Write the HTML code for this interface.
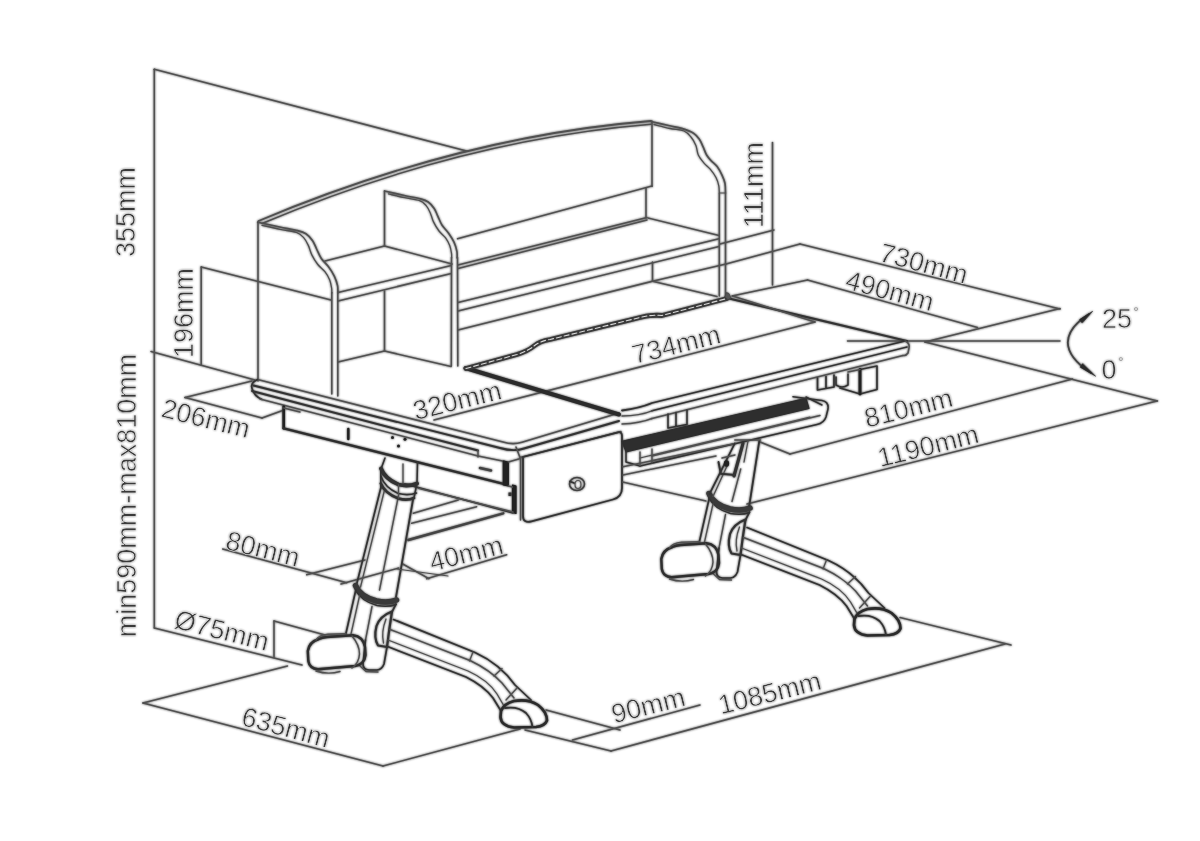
<!DOCTYPE html>
<html><head><meta charset="utf-8"><title>Desk dimensions</title>
<style>
html,body{margin:0;padding:0;background:#fff;}
body{width:1200px;height:841px;overflow:hidden;}
svg{display:block;font-family:"Liberation Sans",sans-serif;will-change:transform;}
svg line,svg path{stroke-linecap:round;stroke-linejoin:round;}
</style></head><body>
<svg width="1200" height="841" viewBox="0 0 1200 841">
<rect width="1200" height="841" fill="#fff"/>
<defs><filter id="soft" x="0" y="0" width="1200" height="841" filterUnits="userSpaceOnUse" color-interpolation-filters="sRGB"><feGaussianBlur stdDeviation="0.8" result="b"/><feMerge><feMergeNode in="b"/><feMergeNode in="SourceGraphic"/></feMerge></filter></defs>
<g filter="url(#soft)">
<!-- dimension lines -->
<line x1="154.3" y1="69.3" x2="154.3" y2="628" stroke="#505050" stroke-width="1.56"/>
<line x1="154.3" y1="69.3" x2="467.5" y2="151.3" stroke="#505050" stroke-width="1.56"/>
<line x1="151" y1="351.5" x2="255" y2="380" stroke="#505050" stroke-width="1.56"/>
<line x1="154.3" y1="628" x2="302" y2="665" stroke="#505050" stroke-width="1.56"/>
<line x1="201.2" y1="267" x2="201.2" y2="365" stroke="#505050" stroke-width="1.56"/>
<line x1="201.2" y1="267" x2="331" y2="300" stroke="#505050" stroke-width="1.56"/>
<line x1="252" y1="381" x2="185" y2="397.5" stroke="#505050" stroke-width="1.56"/>
<line x1="185" y1="397.5" x2="262" y2="418" stroke="#505050" stroke-width="1.56"/>
<line x1="262" y1="418" x2="284" y2="410" stroke="#505050" stroke-width="1.56"/>
<line x1="222.7" y1="549" x2="346.7" y2="582.7" stroke="#505050" stroke-width="1.56"/>
<line x1="306.7" y1="574.7" x2="365" y2="560" stroke="#505050" stroke-width="1.56"/>
<line x1="341" y1="584" x2="398.7" y2="568" stroke="#505050" stroke-width="1.56"/>
<line x1="402.7" y1="564" x2="429" y2="578.7" stroke="#505050" stroke-width="1.56"/>
<line x1="426.7" y1="578.7" x2="506.7" y2="554.7" stroke="#505050" stroke-width="1.56"/>
<line x1="274" y1="621" x2="274" y2="657.5" stroke="#505050" stroke-width="1.56"/>
<line x1="274" y1="621" x2="325" y2="635" stroke="#505050" stroke-width="1.56"/>
<line x1="143" y1="703" x2="287.5" y2="666" stroke="#505050" stroke-width="1.56"/>
<line x1="143" y1="703" x2="383" y2="766" stroke="#505050" stroke-width="1.56"/>
<line x1="383" y1="766" x2="520" y2="729" stroke="#505050" stroke-width="1.56"/>
<line x1="546" y1="710" x2="620" y2="730" stroke="#505050" stroke-width="1.56"/>
<line x1="525" y1="730" x2="611" y2="751" stroke="#505050" stroke-width="1.56"/>
<line x1="572.5" y1="740" x2="700" y2="705" stroke="#505050" stroke-width="1.56"/>
<line x1="611" y1="751" x2="1005" y2="644" stroke="#505050" stroke-width="1.56"/>
<line x1="900" y1="617.5" x2="1011" y2="645" stroke="#505050" stroke-width="1.56"/>
<line x1="747" y1="504" x2="1157" y2="401" stroke="#505050" stroke-width="1.56"/>
<line x1="790" y1="454" x2="1072.5" y2="379" stroke="#505050" stroke-width="1.56"/>
<line x1="760" y1="442" x2="790" y2="454" stroke="#505050" stroke-width="1.56"/>
<line x1="925" y1="342" x2="1157.5" y2="401" stroke="#505050" stroke-width="1.56"/>
<line x1="925" y1="342" x2="1060" y2="308.5" stroke="#505050" stroke-width="1.56"/>
<line x1="847.5" y1="341" x2="1060" y2="341" stroke="#505050" stroke-width="1.56"/>
<line x1="800" y1="244" x2="1060" y2="309" stroke="#505050" stroke-width="1.56"/>
<line x1="726" y1="264" x2="800" y2="244" stroke="#505050" stroke-width="1.56"/>
<line x1="807.5" y1="280" x2="977.5" y2="327.5" stroke="#505050" stroke-width="1.56"/>
<line x1="732" y1="296" x2="807.5" y2="280" stroke="#505050" stroke-width="1.56"/>
<line x1="772.5" y1="142.5" x2="772.5" y2="285" stroke="#505050" stroke-width="1.56"/>
<line x1="720" y1="244" x2="774" y2="230" stroke="#505050" stroke-width="1.56"/>
<line x1="434" y1="420" x2="815" y2="322" stroke="#505050" stroke-width="1.56"/>
<!-- labels -->
<text transform="translate(125.5,212) rotate(-90)" x="0" y="9.67" font-size="27" text-anchor="middle" fill="#3a3a3a" stroke="#fff" stroke-width="0.5">355mm</text>
<text transform="translate(183.5,313) rotate(-90)" x="0" y="9.67" font-size="27" text-anchor="middle" fill="#3a3a3a" stroke="#fff" stroke-width="0.5">196mm</text>
<text transform="translate(126,495.5) rotate(-90)" x="0" y="9.67" font-size="27" text-anchor="middle" fill="#3a3a3a" stroke="#fff" stroke-width="0.5">min590mm-max810mm</text>
<text transform="translate(753,185) rotate(-90)" x="0" y="9.67" font-size="27" text-anchor="middle" fill="#3a3a3a" stroke="#fff" stroke-width="0.5">111mm</text>
<text transform="translate(206,418) rotate(14)" x="0" y="9.67" font-size="27" text-anchor="middle" fill="#3a3a3a" stroke="#fff" stroke-width="0.5">206mm</text>
<text transform="translate(457,400) rotate(-14)" x="0" y="9.67" font-size="27" text-anchor="middle" fill="#3a3a3a" stroke="#fff" stroke-width="0.5">320mm</text>
<text transform="translate(676,344) rotate(-14)" x="0" y="9.67" font-size="27" text-anchor="middle" fill="#3a3a3a" stroke="#fff" stroke-width="0.5">734mm</text>
<text transform="translate(924,263) rotate(15)" x="0" y="9.67" font-size="27" text-anchor="middle" fill="#3a3a3a" stroke="#fff" stroke-width="0.5">730mm</text>
<text transform="translate(890,290.5) rotate(15)" x="0" y="9.67" font-size="27" text-anchor="middle" fill="#3a3a3a" stroke="#fff" stroke-width="0.5">490mm</text>
<text transform="translate(908.3,407.5) rotate(-14)" x="0" y="9.67" font-size="27" text-anchor="middle" fill="#3a3a3a" stroke="#fff" stroke-width="0.5">810mm</text>
<text transform="translate(928,445.5) rotate(-14)" x="0" y="9.67" font-size="27" text-anchor="middle" fill="#3a3a3a" stroke="#fff" stroke-width="0.5">1190mm</text>
<text transform="translate(263,548.5) rotate(14)" x="0" y="9.67" font-size="27" text-anchor="middle" fill="#3a3a3a" stroke="#fff" stroke-width="0.5">80mm</text>
<text transform="translate(466,553) rotate(-14)" x="0" y="9.67" font-size="27" text-anchor="middle" fill="#3a3a3a" stroke="#fff" stroke-width="0.5">40mm</text>
<text transform="translate(222,630) rotate(14)" x="0" y="9.67" font-size="27" text-anchor="middle" fill="#3a3a3a" stroke="#fff" stroke-width="0.5">Ø75mm</text>
<text transform="translate(286,727) rotate(15)" x="0" y="9.67" font-size="27" text-anchor="middle" fill="#3a3a3a" stroke="#fff" stroke-width="0.5">635mm</text>
<text transform="translate(648,705) rotate(-14)" x="0" y="9.67" font-size="27" text-anchor="middle" fill="#3a3a3a" stroke="#fff" stroke-width="0.5">90mm</text>
<text transform="translate(769.5,692.5) rotate(-14)" x="0" y="9.67" font-size="27" text-anchor="middle" fill="#3a3a3a" stroke="#fff" stroke-width="0.5">1085mm</text>
<!-- bookshelf -->
<path d="M258.5,221 Q460,136.3 651,121" stroke="#505050" stroke-width="1.8" fill="none"/>
<path d="M262,223.5 Q461,139.8 651,124.3" stroke="#505050" stroke-width="1.44" fill="none"/>
<line x1="652" y1="121" x2="652" y2="186.5" stroke="#505050" stroke-width="1.56"/>
<line x1="457.5" y1="238.8" x2="652" y2="186" stroke="#505050" stroke-width="1.56"/>
<line x1="646" y1="188" x2="646" y2="218" stroke="#505050" stroke-width="1.56"/>
<line x1="258" y1="222" x2="258" y2="381" stroke="#505050" stroke-width="1.56"/>
<path d="M257.7,222.2 C261.37,223.00 273.05,225.60 279.7,227 C286.35,228.40 293.23,229.47 297.6,230.6 C301.97,231.73 303.40,232.12 305.9,233.8 C308.40,235.48 310.82,238.17 312.6,240.7 C314.38,243.23 315.15,246.03 316.6,249 C318.05,251.97 319.32,255.53 321.3,258.5 C323.28,261.47 326.32,263.83 328.5,266.8 C330.68,269.77 332.88,273.12 334.4,276.3 C335.92,279.48 337.03,283.12 337.6,285.9 C338.17,288.68 337.77,291.82 337.8,293" stroke="#505050" stroke-width="1.68" fill="none"/>
<path d="M262,225.3 C265.00,225.97 274.27,228.12 280,229.3 C285.73,230.48 292.48,231.05 296.4,232.4 C300.32,233.75 301.52,235.23 303.5,237.4 C305.48,239.57 306.92,242.48 308.3,245.4 C309.68,248.32 310.22,251.72 311.8,254.9 C313.38,258.08 315.62,261.72 317.8,264.5 C319.98,267.28 322.92,269.03 324.9,271.6 C326.88,274.17 328.58,277.13 329.7,279.9 C330.82,282.67 331.25,286.02 331.6,288.2 C331.95,290.38 331.77,292.20 331.8,293" stroke="#505050" stroke-width="1.32" fill="none"/>
<line x1="337.8" y1="291" x2="337.8" y2="396" stroke="#505050" stroke-width="1.56"/>
<line x1="331.8" y1="292.5" x2="331.8" y2="394" stroke="#505050" stroke-width="1.56"/>
<line x1="384.5" y1="191" x2="384.5" y2="246" stroke="#505050" stroke-width="1.56"/>
<line x1="384.5" y1="291" x2="384.5" y2="351" stroke="#505050" stroke-width="1.56"/>
<path d="M384.5,191.0 C387.82,191.75 398.38,194.18 404.4,195.5 C410.42,196.82 416.63,197.82 420.6,198.9 C424.57,199.98 425.93,200.40 428.2,202.0 C430.47,203.60 432.58,206.10 434.2,208.5 C435.82,210.90 436.58,213.60 437.9,216.4 C439.22,219.20 440.32,222.50 442.1,225.3 C443.88,228.10 446.62,230.38 448.6,233.2 C450.58,236.02 452.62,239.18 454.0,242.2 C455.38,245.22 456.38,248.67 456.9,251.3 C457.42,253.93 457.07,256.88 457.1,258.0" stroke="#505050" stroke-width="1.68" fill="none"/>
<path d="M388.4,193.9 C391.12,194.53 399.50,196.58 404.7,197.7 C409.90,198.82 416.05,199.32 419.6,200.6 C423.15,201.88 424.22,203.35 426.0,205.4 C427.78,207.45 429.05,210.15 430.3,212.9 C431.55,215.65 432.05,218.88 433.5,221.9 C434.95,224.92 437.02,228.37 439.0,231.0 C440.98,233.63 443.62,235.27 445.4,237.7 C447.18,240.13 448.68,242.98 449.7,245.6 C450.72,248.22 451.18,251.33 451.5,253.4 C451.82,255.47 451.58,257.23 451.6,258.0" stroke="#505050" stroke-width="1.32" fill="none"/>
<line x1="457.5" y1="257.5" x2="457.8" y2="366" stroke="#505050" stroke-width="1.56"/>
<line x1="451.5" y1="257.5" x2="451.3" y2="366" stroke="#505050" stroke-width="1.56"/>
<path d="M651,121.5 C654.12,122.22 664.60,124.65 669.7,125.8 C674.80,126.95 677.63,127.17 681.6,128.4 C685.57,129.63 690.52,131.35 693.5,133.2 C696.48,135.05 697.92,137.27 699.5,139.5 C701.08,141.73 701.82,144.02 703,146.6 C704.18,149.18 705.22,152.62 706.6,155 C707.98,157.38 709.52,158.93 711.3,160.9 C713.08,162.87 715.52,164.42 717.3,166.8 C719.08,169.18 720.72,172.42 722,175.2 C723.28,177.98 724.42,180.53 725,183.5 C725.58,186.47 725.42,191.42 725.5,193" stroke="#505050" stroke-width="1.68" fill="none"/>
<path d="M654,124.5 C656.67,125.17 665.00,127.42 670,128.5 C675.00,129.58 680.50,129.58 684,131 C687.50,132.42 689.02,134.60 691,137 C692.98,139.40 694.68,142.40 695.9,145.4 C697.12,148.40 696.92,152.02 698.3,155 C699.68,157.98 702.22,160.93 704.2,163.3 C706.18,165.67 708.23,166.83 710.2,169.2 C712.17,171.57 714.57,174.72 716,177.5 C717.43,180.28 718.25,183.23 718.8,185.9 C719.35,188.57 719.22,192.23 719.3,193.5" stroke="#505050" stroke-width="1.32" fill="none"/>
<line x1="725.5" y1="193" x2="725.5" y2="297" stroke="#505050" stroke-width="1.56"/>
<line x1="719.3" y1="194" x2="719.3" y2="296" stroke="#505050" stroke-width="1.56"/>
<line x1="719.3" y1="193" x2="725.5" y2="193" stroke="#505050" stroke-width="1.2"/>
<line x1="325" y1="261" x2="384.5" y2="246" stroke="#505050" stroke-width="1.56"/>
<line x1="384.5" y1="246" x2="452" y2="264" stroke="#505050" stroke-width="1.56"/>
<line x1="338" y1="292.5" x2="451.3" y2="265.5" stroke="#505050" stroke-width="1.56"/>
<line x1="338" y1="301" x2="451.3" y2="273.5" stroke="#505050" stroke-width="1.56"/>
<line x1="338" y1="362" x2="384.5" y2="351" stroke="#505050" stroke-width="1.56"/>
<line x1="384.5" y1="351" x2="451" y2="366.5" stroke="#505050" stroke-width="1.56"/>
<line x1="458" y1="265" x2="647" y2="217.5" stroke="#505050" stroke-width="1.56"/>
<line x1="458" y1="268.6" x2="647" y2="220" stroke="#505050" stroke-width="1.56"/>
<line x1="648" y1="218" x2="719" y2="235.5" stroke="#505050" stroke-width="1.56"/>
<line x1="458" y1="302.5" x2="719" y2="238.8" stroke="#505050" stroke-width="1.56"/>
<line x1="458" y1="311" x2="719" y2="246.5" stroke="#505050" stroke-width="1.56"/>
<line x1="458" y1="330" x2="652.5" y2="281.3" stroke="#505050" stroke-width="1.56"/>
<line x1="652.5" y1="262" x2="652.5" y2="281.3" stroke="#505050" stroke-width="1.56"/>
<line x1="652.5" y1="281.3" x2="717" y2="296.5" stroke="#505050" stroke-width="1.56"/>
<line x1="652.5" y1="281.3" x2="726" y2="264" stroke="#505050" stroke-width="1.56"/>
<!-- desk top -->
<path d="M257.5,379.5 L503,442 Q513,445.2 522,442.2 L619,413" stroke="#505050" stroke-width="1.68" fill="none"/>
<path d="M257.5,379.5 Q250,383 252,388.5 Q254,396 262,399.5" stroke="#333" stroke-width="1.68" fill="none"/>
<path d="M253.5,385.5 L500,448 Q514,452 524,448.5 L619,421" stroke="#333" stroke-width="1.92" fill="none"/>
<path d="M252,391 L478,450.5" stroke="#333" stroke-width="1.92" fill="none"/>
<path d="M260,399 L478,456" stroke="#505050" stroke-width="1.44" fill="none"/>
<path d="M478,450.5 L478,457" stroke="#505050" stroke-width="1.44" fill="none"/>
<path d="M478,456 L505,461.5" stroke="#505050" stroke-width="1.44" fill="none"/>
<path d="M516,447 L520,457.5 L621,431.5" stroke="#505050" stroke-width="1.56" fill="none"/>
<path d="M465.5,368 L619,414.5" stroke="#2b2b2b" stroke-width="4.08" fill="none"/>
<path d="M466,368.5 L517,354.5 Q528,351 534,346 Q540,341 550,339.5 L640,317.5 Q652,314.5 662,315.5 L727,298.5" stroke="#3a3a3a" stroke-width="4.8" fill="none"/>
<path d="M466,368.5 L517,354.5 Q528,351 534,346 Q540,341 550,339.5 L640,317.5 Q652,314.5 662,315.5 L727,298.5" stroke="#d8d8d8" stroke-width="1.1" fill="none" stroke-dasharray="5 3"/>
<path d="M727,298 L907,341" stroke="#333" stroke-width="2.16" fill="none"/>
<line x1="732.5" y1="296" x2="815" y2="322" stroke="#505050" stroke-width="1.32"/>
<path d="M622,410.5 Q640,408 652,403 L905,341" stroke="#333" stroke-width="1.8" fill="none"/>
<path d="M652,410.8 L907,347" stroke="#333" stroke-width="1.68" fill="none"/>
<path d="M652,418.5 L903,355.5" stroke="#505050" stroke-width="1.56" fill="none"/>
<path d="M905,341 Q910,343 909,348 L908,353 Q906,356 903,355.5" stroke="#505050" stroke-width="1.56" fill="none"/>
<path d="M622,416 Q640,416 652,410.8" stroke="#505050" stroke-width="1.44" fill="none"/>
<path d="M622,424 Q640,423.5 652,418.5" stroke="#505050" stroke-width="1.44" fill="none"/>
<!-- drawer -->
<line x1="283.7" y1="406.5" x2="283.7" y2="428.3" stroke="#222" stroke-width="2.64"/>
<line x1="283.7" y1="428.3" x2="503.5" y2="483.8" stroke="#2e2e2e" stroke-width="2.4"/>
<line x1="283.7" y1="408" x2="300" y2="412" stroke="#505050" stroke-width="1.32"/>
<line x1="348.3" y1="429" x2="348.3" y2="439" stroke="#222" stroke-width="2.4"/>
<circle cx="392.5" cy="437.5" r="1.5" fill="#222"/>
<circle cx="405" cy="439.3" r="1.5" fill="#222"/>
<circle cx="398.5" cy="446" r="1.5" fill="#222"/>
<line x1="480" y1="468" x2="491" y2="470.5" stroke="#444" stroke-width="2.64"/>
<path d="M503.3,461 L508.3,462 L508.3,486 L503.3,485 Z" stroke="#222" stroke-width="1.2" fill="#222"/>
<path d="M512.5,485 L516,486 L516,513.5 L512.5,512.5 Z" stroke="#222" stroke-width="1.2" fill="#222"/>
<line x1="508.3" y1="486" x2="512.5" y2="487" stroke="#505050" stroke-width="1.44"/>
<line x1="520.5" y1="457.5" x2="520.5" y2="520" stroke="#505050" stroke-width="1.44"/>
<line x1="508.3" y1="462" x2="520.5" y2="458.5" stroke="#505050" stroke-width="1.32"/>
<rect x="508.5" y="492.5" width="3" height="3.5" fill="#333"/>
<line x1="405" y1="484" x2="513" y2="512.8" stroke="#333" stroke-width="1.8"/>
<path d="M523,457 L618,432.3 Q622,431.5 622,436 L622,488 Q622,497 613,499.5 L531.5,521.3 Q523,523.5 523,516 Z" stroke="#333" stroke-width="1.8" fill="none"/>
<ellipse cx="577" cy="484" rx="7.5" ry="6.5" fill="none" stroke="#444" stroke-width="1.6"/>
<ellipse cx="578" cy="484.5" rx="3" ry="4" fill="none" stroke="#555" stroke-width="1.2"/>
<line x1="570" y1="481.5" x2="574" y2="483" stroke="#333" stroke-width="1.8"/>
<!-- tray -->
<path d="M622,441.3 L806,398.3 L809,408.5 L626,451.8 Z" stroke="#2e2e2e" stroke-width="1.2" fill="#2e2e2e"/>
<path d="M793,396.7 L822,400.5 Q829,402 828,409 L826,417 Q824,423 817,424.5 L640,466" stroke="#333" stroke-width="1.56" fill="none"/>
<path d="M806,397 L822,405" stroke="#333" stroke-width="1.44" fill="none"/>
<path d="M626,451.7 L626,462 L640,466" stroke="#333" stroke-width="1.56" fill="none"/>
<path d="M640,452 L640,466" stroke="#505050" stroke-width="1.44" fill="none"/>
<path d="M652,449 L652,463" stroke="#505050" stroke-width="1.44" fill="none"/>
<path d="M652,456 L820,415.5" stroke="#505050" stroke-width="1.44" fill="none"/>
<path d="M640,458 L810,417" stroke="#505050" stroke-width="1.2" fill="none"/>
<path d="M668,414 L668,428 M676,412.5 L676,426 M687,410 L687,424.5 M668,428 L687,424.5" stroke="#333" stroke-width="1.56" fill="none"/>
<path d="M817.5,378 L817.5,390 M826,376.5 L826,388.5 M834,375 L834,387 M817.5,390 L834,387" stroke="#333" stroke-width="1.68" fill="none"/>
<path d="M836,377 L836,385 Q842,389 848,385 L848,374" stroke="#333" stroke-width="1.56" fill="none"/>
<path d="M840,388 L860,394 L877,389.5 L877,366 L860,369.5" stroke="#333" stroke-width="1.68" fill="none"/>
<line x1="860" y1="369.5" x2="860" y2="394" stroke="#222" stroke-width="2.88"/>
<line x1="848" y1="372" x2="860" y2="369.5" stroke="#505050" stroke-width="1.56"/>
<path d="M623,466.7 L735,443.5" stroke="#505050" stroke-width="1.56" fill="none"/>
<path d="M623,475 L716,456" stroke="#505050" stroke-width="1.44" fill="none"/>
<path d="M622.5,482 L706,501" stroke="#505050" stroke-width="1.32" fill="none"/>
<!-- legs -->
<line x1="380.8" y1="488" x2="356.7" y2="584" stroke="#333" stroke-width="1.68"/>
<line x1="384.5" y1="490" x2="360.5" y2="587" stroke="#505050" stroke-width="1.32"/>
<line x1="398.3" y1="496.7" x2="379.5" y2="590" stroke="#505050" stroke-width="1.44"/>
<line x1="413.3" y1="498" x2="396" y2="597" stroke="#333" stroke-width="1.8"/>
<path transform="translate(0,0)" d="M355.5,585.5 Q360,596.5 376.5,601 Q388,603.5 396.5,600" stroke="#3a3a3a" stroke-width="5.52" fill="none"/>
<path transform="translate(0,0)" d="M355.5,590 Q361,601 377,605.5 Q388,607.5 396,604.5" stroke="#333" stroke-width="1.44" fill="none"/>
<path transform="translate(0,0)" d="M355.8,590 L345.8,634" stroke="#333" stroke-width="1.68" fill="none"/>
<path transform="translate(0,0)" d="M359.5,596 L351,634" stroke="#505050" stroke-width="1.32" fill="none"/>
<path transform="translate(0,0)" d="M372,606.5 L365.5,640" stroke="#505050" stroke-width="1.44" fill="none"/>
<path transform="translate(0,0)" d="M396,604 L392,612" stroke="#333" stroke-width="1.68" fill="none"/>
<path transform="translate(0,0)" d="M392,611.5 Q380,616 376.5,626 Q373.5,638 378,645.5 L387,647 Q389,630 392,611.5 Z" stroke="#333" stroke-width="2.16" fill="none"/>
<path transform="translate(0,0)" d="M386,619 Q381,632 383.5,643" stroke="#505050" stroke-width="1.32" fill="none"/>
<path transform="translate(0,0)" d="M365.5,640 L363,664 Q363,669.5 369,670 L377,670 Q382,669.5 384,664 L387,647" stroke="#333" stroke-width="1.68" fill="none"/>
<path transform="translate(0,0)" d="M360,666 L366,671.5 L378,672" stroke="#505050" stroke-width="1.32" fill="none"/>
<path transform="translate(0,0)" d="M319,639 Q309,642 307.8,651 L308.3,661 Q309.5,668.5 318,669.3 L355,666 Q364.5,664.5 365.5,655 L365,647 Q363,636.5 353,635.3 L327,637 Q322,637.5 319,639 Z" stroke="#2e2e2e" stroke-width="2.4" fill="none"/>
<path transform="translate(0,0)" d="M316,640 Q319,635 328,634.3 L346,633.7" stroke="#505050" stroke-width="1.44" fill="none"/>
<path transform="translate(0,0)" d="M316,671 Q328,675 340,671.5" stroke="#505050" stroke-width="1.44" fill="none"/>
<path transform="translate(0,0)" d="M352,636 Q359.5,645 359.5,654 Q359,663 352,668" stroke="#505050" stroke-width="1.44" fill="none"/>
<path transform="translate(0,0)" d="M393.5,619.5 L475,652.5 Q500,664 515,685 L531,700" stroke="#333" stroke-width="1.68" fill="none"/>
<path transform="translate(0,0)" d="M390,629.5 L470,660.5 Q490,670 502,683 L514,698" stroke="#505050" stroke-width="1.44" fill="none"/>
<path transform="translate(0,0)" d="M388,640 L468,671 Q488,680 497,694 L504,706" stroke="#505050" stroke-width="1.32" fill="none"/>
<path transform="translate(0,0)" d="M387.5,646.5 L466,677 Q484,686 493,698 L501,711" stroke="#333" stroke-width="1.68" fill="none"/>
<path transform="translate(0,0)" d="M473,652 L469.5,661 M502,668.5 L494,676 M517,688 L506,700" stroke="#505050" stroke-width="1.32" fill="none"/>
<path transform="translate(0,0)" d="M501,711 Q504,703.5 514,701 Q528,698.5 538,705 Q547,712 547,720.5 Q545,726 536,727 L514,727.5 Q501,726 500.5,717 Z" stroke="#2b2b2b" stroke-width="2.64" fill="none"/>
<path transform="translate(0,0)" d="M505,708 Q518,706 526,713 Q531.5,719 532.5,727" stroke="#333" stroke-width="1.8" fill="none"/>
<path d="M385,458 L381,469" stroke="#333" stroke-width="1.56" fill="none"/>
<path d="M417.5,462 L417,483" stroke="#333" stroke-width="1.56" fill="none"/>
<line x1="403" y1="464" x2="403" y2="484" stroke="#505050" stroke-width="1.32"/>
<path d="M381,468.5 Q385,479 398.5,484.5 Q408,487 417,483.5" stroke="#333" stroke-width="3.84" fill="none"/>
<path d="M380.8,476 Q385,488 398.5,493.5 Q408,496 416.5,493" stroke="#333" stroke-width="1.56" fill="none"/>
<path d="M380.8,483.5 Q385,493.5 398.5,498.5 Q407,501 414,498" stroke="#333" stroke-width="2.64" fill="none"/>
<line x1="380.8" y1="469" x2="380.8" y2="488" stroke="#333" stroke-width="1.56"/>
<line x1="416.8" y1="484" x2="414" y2="498" stroke="#333" stroke-width="1.56"/>
<line x1="398.5" y1="485" x2="398.5" y2="498" stroke="#505050" stroke-width="1.32"/>
<line x1="413.3" y1="513.3" x2="458.3" y2="500" stroke="#505050" stroke-width="1.44"/>
<line x1="411.7" y1="523.3" x2="476.7" y2="506.7" stroke="#505050" stroke-width="1.44"/>
<line x1="408.3" y1="540" x2="503.3" y2="513.3" stroke="#444" stroke-width="2.4"/>
<line x1="418.3" y1="488.3" x2="513" y2="512" stroke="#505050" stroke-width="1.56"/>
<path transform="translate(353.5,-92)" d="M355.5,585.5 Q360,596.5 376.5,601 Q388,603.5 396.5,600" stroke="#3a3a3a" stroke-width="5.52" fill="none"/>
<path transform="translate(353.5,-92)" d="M355.5,590 Q361,601 377,605.5 Q388,607.5 396,604.5" stroke="#333" stroke-width="1.44" fill="none"/>
<path transform="translate(353.5,-92)" d="M355.8,590 L345.8,634" stroke="#333" stroke-width="1.68" fill="none"/>
<path transform="translate(353.5,-92)" d="M359.5,596 L351,634" stroke="#505050" stroke-width="1.32" fill="none"/>
<path transform="translate(353.5,-92)" d="M372,606.5 L365.5,640" stroke="#505050" stroke-width="1.44" fill="none"/>
<path transform="translate(353.5,-92)" d="M396,604 L392,612" stroke="#333" stroke-width="1.68" fill="none"/>
<path transform="translate(353.5,-92)" d="M392,611.5 Q380,616 376.5,626 Q373.5,638 378,645.5 L387,647 Q389,630 392,611.5 Z" stroke="#333" stroke-width="2.16" fill="none"/>
<path transform="translate(353.5,-92)" d="M386,619 Q381,632 383.5,643" stroke="#505050" stroke-width="1.32" fill="none"/>
<path transform="translate(353.5,-92)" d="M365.5,640 L363,664 Q363,669.5 369,670 L377,670 Q382,669.5 384,664 L387,647" stroke="#333" stroke-width="1.68" fill="none"/>
<path transform="translate(353.5,-92)" d="M360,666 L366,671.5 L378,672" stroke="#505050" stroke-width="1.32" fill="none"/>
<path transform="translate(353.5,-92)" d="M319,639 Q309,642 307.8,651 L308.3,661 Q309.5,668.5 318,669.3 L355,666 Q364.5,664.5 365.5,655 L365,647 Q363,636.5 353,635.3 L327,637 Q322,637.5 319,639 Z" stroke="#2e2e2e" stroke-width="2.4" fill="none"/>
<path transform="translate(353.5,-92)" d="M316,640 Q319,635 328,634.3 L346,633.7" stroke="#505050" stroke-width="1.44" fill="none"/>
<path transform="translate(353.5,-92)" d="M316,671 Q328,675 340,671.5" stroke="#505050" stroke-width="1.44" fill="none"/>
<path transform="translate(353.5,-92)" d="M352,636 Q359.5,645 359.5,654 Q359,663 352,668" stroke="#505050" stroke-width="1.44" fill="none"/>
<path transform="translate(353.5,-92)" d="M393.5,619.5 L475,652.5 Q500,664 515,685 L531,700" stroke="#333" stroke-width="1.68" fill="none"/>
<path transform="translate(353.5,-92)" d="M390,629.5 L470,660.5 Q490,670 502,683 L514,698" stroke="#505050" stroke-width="1.44" fill="none"/>
<path transform="translate(353.5,-92)" d="M388,640 L468,671 Q488,680 497,694 L504,706" stroke="#505050" stroke-width="1.32" fill="none"/>
<path transform="translate(353.5,-92)" d="M387.5,646.5 L466,677 Q484,686 493,698 L501,711" stroke="#333" stroke-width="1.68" fill="none"/>
<path transform="translate(353.5,-92)" d="M473,652 L469.5,661 M502,668.5 L494,676 M517,688 L506,700" stroke="#505050" stroke-width="1.32" fill="none"/>
<path transform="translate(353.5,-92)" d="M501,711 Q504,703.5 514,701 Q528,698.5 538,705 Q547,712 547,720.5 Q545,726 536,727 L514,727.5 Q501,726 500.5,717 Z" stroke="#2b2b2b" stroke-width="2.64" fill="none"/>
<path transform="translate(353.5,-92)" d="M505,708 Q518,706 526,713 Q531.5,719 532.5,727" stroke="#333" stroke-width="1.8" fill="none"/>
<line x1="734.8" y1="443.3" x2="709.5" y2="494" stroke="#333" stroke-width="1.68"/>
<line x1="727" y1="466" x2="713" y2="496.5" stroke="#505050" stroke-width="1.32"/>
<line x1="740.7" y1="469" x2="732" y2="501.5" stroke="#505050" stroke-width="1.44"/>
<line x1="759.3" y1="441" x2="749.2" y2="506" stroke="#333" stroke-width="1.8"/>
<line x1="748" y1="441" x2="744" y2="462" stroke="#505050" stroke-width="1.32"/>
<path d="M734.8,440 L760.5,440" stroke="#505050" stroke-width="1.44" fill="none"/>
<path d="M743,443.3 L734,476" stroke="#333" stroke-width="3.12" fill="none"/>
<path d="M718.5,462 L720.8,473.7 L734.8,475" stroke="#333" stroke-width="1.92" fill="none"/>
<ellipse cx="726.5" cy="463.5" rx="2.6" ry="3.2" fill="#222"/>
<path d="M722,458 L735,455" stroke="#505050" stroke-width="1.44" fill="none"/>
<!-- angle arc -->
<path d="M1089,314 Q1068,327.5 1067.8,342.5 Q1068,358 1091,373" stroke="#444" stroke-width="1.8" fill="none"/>
<path d="M1092.3,311.5 L1079.6,319.6 L1082,322.8 Z" stroke="#2a2a2a" stroke-width="0.6" fill="#2a2a2a"/>
<path d="M1095.3,376 L1080.2,367.2 L1082.5,363.8 Z" stroke="#2a2a2a" stroke-width="0.6" fill="#2a2a2a"/>
<path d="M725,296.5 L726.5,292.5 L729,293.5 L731,298 L728,299.5 Z" stroke="#444" stroke-width="0.72" fill="#555"/>
<line x1="397" y1="569" x2="448" y2="576" stroke="#505050" stroke-width="1.2"/>
<text x="1102" y="327.7" font-size="27" fill="#3a3a3a" stroke="#fff" stroke-width="0.5">25<tspan font-size="14" dx="1.2" dy="-10.7" fill="#999" stroke="none">°</tspan></text>
<text x="1101.5" y="379.2" font-size="27" fill="#3a3a3a" stroke="#fff" stroke-width="0.5">0<tspan font-size="14" dx="1.5" dy="-12.2" fill="#999" stroke="none">°</tspan></text>
</g>
</svg>
</body></html>
